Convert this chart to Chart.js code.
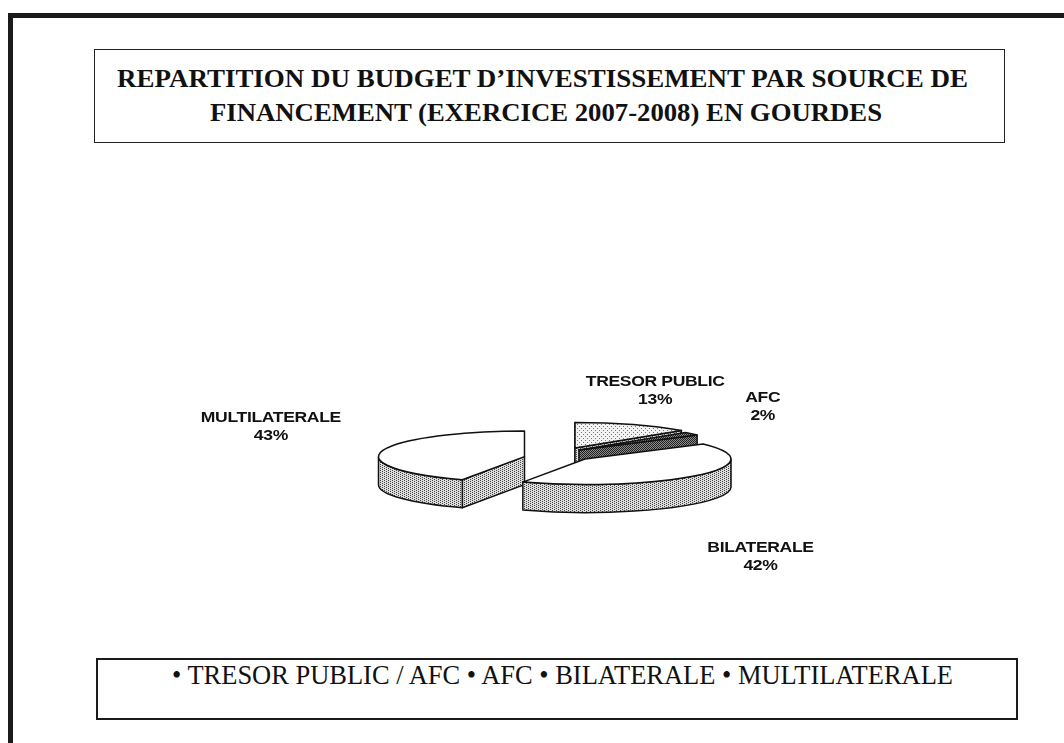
<!DOCTYPE html>
<html>
<head>
<meta charset="utf-8">
<script src="https://cdn.jsdelivr.net/npm/chart.js@4.4.0/dist/chart.umd.min.js"></script>
<style>
html, body { margin: 0; padding: 0; background: #fff; }
body { width: 1064px; height: 743px; position: relative; overflow: hidden; font-family: "Liberation Serif", "Times New Roman", serif; color: #111; }
#frame { position: absolute; left: 8px; top: 13px; right: -20px; bottom: -20px; border-left: 5px solid #1a1a1a; border-top: 5px solid #1a1a1a; }
#titleBox { position: absolute; left: 94px; top: 49px; width: 909px; height: 92px; border: 1.5px solid #222; }
#legendBox { position: absolute; left: 96px; top: 658px; width: 918px; height: 58px; border: 2.5px solid #1a1a1a; }
.txt { position: absolute; white-space: nowrap; transform-origin: 0 0; }
.title { font-weight: bold; font-size: 26px; line-height: 26px; }
.legend { font-size: 27px; line-height: 27px; }
#chartWrap { position: absolute; left: 0; top: 0; width: 1064px; height: 743px; }
</style>
</head>
<body>
<div id="frame"></div>
<div id="titleBox"></div>
<div class="txt title" data-w="851" style="left:117px; top:66px;">REPARTITION DU BUDGET D’INVESTISSEMENT PAR SOURCE DE</div>
<div class="txt title" data-w="672" style="left:210px; top:100px;">FINANCEMENT (EXERCICE 2007-2008) EN GOURDES</div>
<div id="legendBox"></div>
<div class="txt legend" id="legendText" data-w="781" style="left:172px; top:662px;"></div>
<div id="chartWrap"><canvas id="pieChart"></canvas></div>
<script>
// data
const sources = ['TRESOR PUBLIC', 'AFC', 'BILATERALE', 'MULTILATERALE'];
const shares = [13, 2, 42, 43];
const legendItems = ['TRESOR PUBLIC / AFC', 'AFC', 'BILATERALE', 'MULTILATERALE'];

// look of the 3d pie
const explode = [0, 0, 0, 62];
const nudge = [[-10, -11], [-6, -9], [0, 0], [0, 0]];
const labelPlace = [[1.21, 0.51], [1.58, 0.56], [1.56, 1.05], [1.78, 0.94]];
const TILT = 0.175;
const DEPTH = 28;

document.getElementById('legendText').textContent = legendItems.map(s => '• ' + s).join(' ');

function fitTexts(){
    document.querySelectorAll('.txt[data-w]').forEach(el => {
        const w = el.getBoundingClientRect().width;
        el.style.transform = 'scaleX(' + (parseFloat(el.dataset.w) / w) + ')';
    });
}
fitTexts();

// stipple fills, like the scanned halftone
function stipple(bg, dot, cells){
    const c = document.createElement('canvas');
    c.width = 4; c.height = 4;
    const g = c.getContext('2d');
    g.fillStyle = bg; g.fillRect(0, 0, 4, 4);
    g.fillStyle = dot;
    cells.forEach(p => g.fillRect(p[0], p[1], 1, 1));
    return g.createPattern(c, 'repeat');
}
const pc = document.getElementById('pieChart').getContext('2d');
const sideFill = stipple('#dcdcdc', '#444', [[0, 0], [2, 1], [0, 2], [2, 3]]);
const lightFill = stipple('#f2f2f2', '#777', [[1, 0], [3, 2]]);
const darkFill = stipple('#8a8a8a', '#222', [[0, 0], [2, 0], [1, 1], [3, 1], [0, 2], [2, 2], [1, 3], [3, 3]]);
const topColors = [lightFill, darkFill, '#ffffff', '#ffffff'];
const sideColors = [sideFill, darkFill, sideFill, sideFill];

function sliceGeom(el, i, withNudge){
    const m = (el.startAngle + el.endAngle) / 2;
    const n = withNudge === false ? [0, 0] : nudge[i];
    return {
        m: m,
        cx: el.x + Math.cos(m) * explode[i] + n[0],
        cy: el.y + Math.sin(m) * explode[i] * TILT + n[1],
        rx: el.outerRadius,
        ry: el.outerRadius * TILT
    };
}

const pie3d = {
    id: 'pie3d',
    beforeDatasetsDraw(chart){
        const ctx = chart.ctx;
        const meta = chart.getDatasetMeta(0);
        const order = meta.data.map((el, i) => i)
            .sort((a, b) => Math.sin(sliceGeom(meta.data[a], a).m) - Math.sin(sliceGeom(meta.data[b], b).m));

        ctx.save();
        ctx.lineWidth = 1.5;
        ctx.strokeStyle = '#111';
        ctx.lineJoin = 'round';
        order.forEach(i => {
            const el = meta.data[i];
            const g = sliceGeom(el, i);
            const s = el.startAngle, e = el.endAngle;
            const pt = a => [g.cx + g.rx * Math.cos(a), g.cy + g.ry * Math.sin(a)];

            // radial faces
            ctx.fillStyle = sideColors[i];
            const face = a => {
                const p = pt(a);
                ctx.beginPath();
                ctx.moveTo(g.cx, g.cy);
                ctx.lineTo(p[0], p[1]);
                ctx.lineTo(p[0], p[1] + DEPTH);
                ctx.lineTo(g.cx, g.cy + DEPTH);
                ctx.closePath();
                ctx.fill();
                ctx.stroke();
            };
            if (Math.cos(s) < 1e-6) face(s);
            if (Math.cos(e) > 1e-6) face(e);

            // outer wall, front half only
            [[0, Math.PI], [2 * Math.PI, 3 * Math.PI]].forEach(r => {
                const a = Math.max(s, r[0]), b = Math.min(e, r[1]);
                if (b <= a) return;
                const pb = pt(b);
                ctx.beginPath();
                ctx.ellipse(g.cx, g.cy, g.rx, g.ry, 0, a, b);
                ctx.lineTo(pb[0], pb[1] + DEPTH);
                ctx.ellipse(g.cx, g.cy + DEPTH, g.rx, g.ry, 0, b, a, true);
                ctx.closePath();
                ctx.fill();
                ctx.stroke();
            });

            // top
            ctx.fillStyle = el.options.backgroundColor;
            ctx.beginPath();
            ctx.moveTo(g.cx, g.cy);
            ctx.ellipse(g.cx, g.cy, g.rx, g.ry, 0, s, e);
            ctx.closePath();
            ctx.fill();
            ctx.stroke();
        });
        ctx.restore();
        return false;
    },
    afterDraw(chart){
        const ctx = chart.ctx;
        const meta = chart.getDatasetMeta(0);
        ctx.save();
        ctx.fillStyle = '#111';
        ctx.font = 'bold 15px "Liberation Sans", Arial, sans-serif';
        ctx.letterSpacing = '-0.3px';
        ctx.textAlign = 'center';
        ctx.textBaseline = 'middle';
        meta.data.forEach((el, i) => {
            const g = sliceGeom(el, i, false);
            const lx = g.cx + Math.cos(g.m) * g.rx * labelPlace[i][0];
            const ly = g.cy + Math.sin(g.m) * g.rx * labelPlace[i][1];
            ctx.save();
            ctx.translate(lx, ly);
            ctx.scale(1.17, 1);
            ctx.fillText(sources[i], 0, -9);
            ctx.fillText(shares[i] + '%', 0, 9);
            ctx.restore();
        });
        ctx.restore();
    }
};

const pieChart = new Chart(pc, {
    type: 'pie',
    data: {
        labels: sources,
        datasets: [{
            data: shares,
            backgroundColor: topColors,
            borderWidth: 0
        }]
    },
    options: {
        responsive: true,
        maintainAspectRatio: false,
        animation: false,
        events: [],
        radius: 146,
        layout: { padding: { left: 106, top: 175 } },
        plugins: {
            legend: { display: false },
            tooltip: { enabled: false }
        }
    },
    plugins: [pie3d]
});
</script>
</body>
</html>
